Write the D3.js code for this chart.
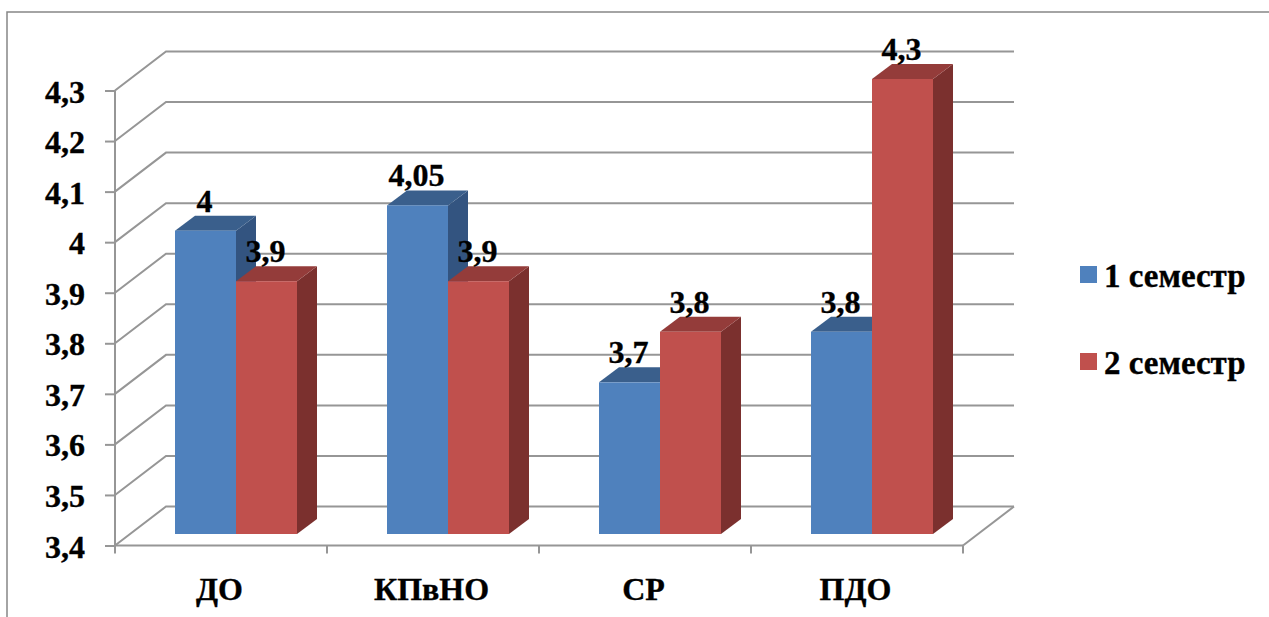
<!DOCTYPE html>
<html>
<head>
<meta charset="utf-8">
<script src="https://cdnjs.cloudflare.com/ajax/libs/d3/7.8.5/d3.min.js"></script>
<style>
  html, body { margin: 0; padding: 0; background: #fff; }
  text { font-family: "Liberation Serif", serif; font-weight: bold; fill: #000; stroke: #000; stroke-width: 0.35px; }
</style>
</head>
<body>
<div id="chart"></div>
<script>
const categories = ["ДО", "КПвНО", "СР", "ПДО"];
const seriesNames = ["1 семестр", "2 семестр"];
const semester1 = [4, 4.05, 3.7, 3.8];
const semester2 = [3.9, 3.9, 3.8, 4.3];
const yTicks = [3.4, 3.5, 3.6, 3.7, 3.8, 3.9, 4, 4.1, 4.2, 4.3];

const width = 1269, height = 617;
const gray = "#969696";
const colors = [
  {front: "#4f81bd", top: "#3a5f8c", side: "#335480"},
  {front: "#c0504d", top: "#943c3a", side: "#7b302e"}
];

// 3d offset of back wall, and of the bars from the front of the floor
const wall = {dx: 51, dy: -39};
const depth = {dx: 20, dy: -15};
const barLift = -11.5;

const svg = d3.select("#chart").append("svg")
    .attr("width", width)
    .attr("height", height)
    .style("display", "block");

const x = d3.scaleBand().domain(categories).range([115, 963]);
const y = d3.scaleLinear().domain([3.4, 4.3]).range([545.5, 90.5]);
const fmt = v => String(v).replace(".", ",");

// outer frame, only top and left are in the picture
svg.append("path")
    .attr("d", d3.line()([[width, 12], [7, 12], [7, height]]))
    .attr("fill", "none")
    .attr("stroke", "#868686")
    .attr("stroke-width", 1.5);

// walls
const grid = svg.append("g")
    .attr("fill", "none")
    .attr("stroke", gray)
    .attr("stroke-width", 2);

grid.selectAll("path.gridline")
  .data(yTicks)
  .join("path")
    .attr("class", "gridline")
    .attr("d", d => d3.line()([
      [x.range()[0], y(d)],
      [x.range()[0] + wall.dx, y(d) + wall.dy],
      [x.range()[1] + wall.dx, y(d) + wall.dy]
    ]));

grid.append("path")
    .attr("d", d3.line()([
      [x.range()[1], y(3.4)],
      [x.range()[1] + wall.dx, y(3.4) + wall.dy]
    ]));

// axes
const yAxis = d3.axisLeft(y).tickValues(yTicks).tickSize(10).tickPadding(20).tickFormat(fmt);
const xAxis = d3.axisBottom(x).tickSize(0).tickPadding(32);

const gy = svg.append("g").attr("transform", `translate(${x.range()[0]},0)`).call(yAxis);
const gx = svg.append("g").attr("transform", `translate(0,${y(3.4)})`).call(xAxis);

for (const g of [gx, gy]) {
  g.selectAll("path, line").attr("stroke", gray).attr("stroke-width", 2);
  g.select(".domain").attr("d", null);
  g.selectAll("text")
      .style("font-family", '"Liberation Serif", serif')
      .style("font-weight", "bold")
      .attr("font-size", 32);
}
gx.selectAll("text").attr("dx", -1.5);
gy.selectAll("text").attr("dy", "0.36em");

svg.append("path")
    .attr("d", d3.line()([[x.range()[0], y(4.3)], [x.range()[0], y(3.4)]]))
    .attr("stroke", gray).attr("stroke-width", 2);
svg.append("path")
    .attr("d", d3.line()([[x.range()[0], y(3.4)], [x.range()[1], y(3.4)]]))
    .attr("stroke", gray).attr("stroke-width", 2);

svg.append("g").selectAll("line")
  .data(d3.range(categories.length + 1))
  .join("line")
    .attr("x1", i => x.range()[0] + i * x.step())
    .attr("x2", i => x.range()[0] + i * x.step())
    .attr("y1", y(3.4))
    .attr("y2", y(3.4) + 8)
    .attr("stroke", gray)
    .attr("stroke-width", 2);

// bars
const barW = 61;
const barStart = 60;
const bars = [];
categories.forEach((c, i) => {
  [semester1[i], semester2[i]].forEach((v, s) => {
    bars.push({cat: c, value: v, s, x0: x(c) + barStart + s * barW});
  });
});

const barG = svg.append("g").selectAll("g")
  .data(bars)
  .join("g");

const poly = pts => d3.line()(pts) + "Z";

barG.append("path")
    .attr("fill", d => colors[d.s].side)
    .attr("d", d => {
      const r = d.x0 + barW, t = y(d.value) + barLift, b = y(3.4) + barLift;
      return poly([[r, t], [r + depth.dx, t + depth.dy], [r + depth.dx, b + depth.dy], [r, b]]);
    });

barG.append("path")
    .attr("fill", d => colors[d.s].top)
    .attr("d", d => {
      const l = d.x0, r = d.x0 + barW, t = y(d.value) + barLift;
      return poly([[l, t], [l + depth.dx, t + depth.dy], [r + depth.dx, t + depth.dy], [r, t]]);
    });

barG.append("rect")
    .attr("fill", d => colors[d.s].front)
    .attr("x", d => d.x0)
    .attr("y", d => y(d.value) + barLift)
    .attr("width", barW)
    .attr("height", d => y(3.4) - y(d.value));

// value labels
svg.append("g").selectAll("text")
  .data(bars)
  .join("text")
    .attr("x", d => d.x0 + barW / 2 - 1)
    .attr("y", d => y(d.value) + barLift + depth.dy - 4)
    .attr("text-anchor", "middle")
    .attr("font-size", 32)
    .text(d => fmt(d.value));

// legend
const legendY = d3.scalePoint().domain(seriesNames).range([274.5, 361.5]);
const legend = svg.append("g").selectAll("g")
  .data(seriesNames)
  .join("g")
    .attr("transform", d => `translate(1080,${legendY(d)})`);

legend.append("rect")
    .attr("y", -8.5)
    .attr("width", 17)
    .attr("height", 17)
    .attr("fill", (d, i) => colors[i].front);

legend.append("text")
    .attr("x", 24)
    .attr("y", 12.5)
    .attr("font-size", 33)
    .text(d => d);
</script>
</body>
</html>
